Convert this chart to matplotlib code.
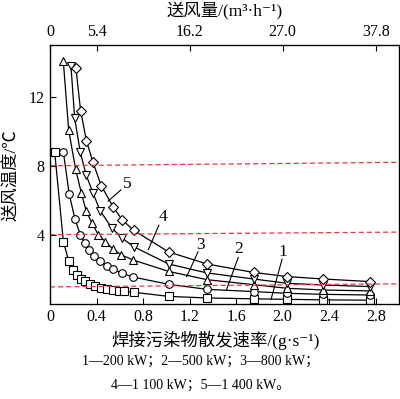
import numpy as np
import matplotlib
matplotlib.use('Agg')
import matplotlib.pyplot as plt

plt.rcParams['font.family'] = ['Liberation Serif', 'Noto Sans CJK SC', 'DejaVu Serif']
plt.rcParams['axes.unicode_minus'] = False

# emission rate (g/s) vs supply air temperature (C), one curve per power level
x1 = [0.04, 0.115, 0.16, 0.20, 0.23, 0.27, 0.30, 0.34, 0.39, 0.44, 0.49, 0.54, 0.59, 0.64, 0.72,
      1.02, 1.35, 1.75, 2.04, 2.35, 2.75]
y1 = [8.8, 3.6, 2.5, 1.97, 1.68, 1.45, 1.29, 1.14, 1.01, 0.91, 0.85, 0.80, 0.76, 0.71, 0.66,
      0.42, 0.33, 0.28, 0.25, 0.22, 0.20]

x2 = [0.115, 0.165, 0.215, 0.26, 0.30, 0.335, 0.38, 0.43, 0.49, 0.545, 0.615, 0.71,
      1.02, 1.35, 1.75, 2.04, 2.35, 2.75]
y2 = [8.8, 6.35, 4.9, 4.0, 3.5, 3.1, 2.75, 2.45, 2.2, 2.0, 1.78, 1.55,
      1.12, 0.83, 0.70, 0.60, 0.54, 0.50]

x3 = [0.114, 0.16, 0.22, 0.27, 0.31, 0.36, 0.415, 0.475, 0.545, 0.61, 0.715,
      1.02, 1.35, 1.75, 2.04, 2.35, 2.75]
y3 = [14.1, 10.1, 7.8, 6.4, 5.4, 4.68, 4.0, 3.6, 3.15, 2.84, 2.53,
      1.87, 1.39, 1.10, 0.89, 0.79, 0.74]

x4 = [0.18, 0.212, 0.26, 0.31, 0.37, 0.43, 0.53, 0.62, 0.72,
      1.02, 1.35, 1.75, 2.04, 2.35, 2.75]
y4 = [13.8, 10.76, 8.8, 7.48, 6.42, 5.4, 4.4, 3.8, 3.3,
      2.3, 1.78, 1.43, 1.18, 1.08, 0.99]

x5 = [0.223, 0.263, 0.313, 0.37, 0.44, 0.544, 0.62, 0.72,
      1.02, 1.35, 1.75, 2.04, 2.35, 2.75]
y5 = [13.66, 11.2, 9.45, 8.19, 6.85, 5.6, 4.87, 4.25,
      3.0, 2.3, 1.81, 1.57, 1.43, 1.28]

curves = [(x1, y1, 's'), (x2, y2, 'o'), (x3, y3, '^'), (x4, y4, 'v'), (x5, y5, 'D')]

# red dashed reference levels (left end / right end, the scan is a bit tilted)
ref_left = [8.0, 4.0, 0.97]
ref_right = [8.2, 4.15, 1.15]

# curve numbers and their leader lines
num_labels = ['1', '2', '3', '4', '5']
num_xy = [(2.0, 2.98), (1.625, 3.18), (1.29, 3.42), (0.97, 5.0), (0.665, 6.95)]
lead_from = [(1.90, 0.25), (1.515, 0.77), (1.175, 1.57), (0.845, 3.13), (0.50, 5.95)]
lead_to = [(1.995, 2.58), (1.618, 2.68), (1.272, 3.0), (0.936, 4.55), (0.61, 6.6)]

xticks = [0, 0.4, 0.8, 1.2, 1.6, 2.0, 2.4, 2.8]
air_ticks = [0, 5.4, 16.2, 27.0, 37.8]
air_per_rate = 13.5

fig = plt.figure(figsize=(4.0, 3.99), dpi=100)
ax = fig.add_axes([0.125, 0.239, 0.8725, 0.648])

for x, y, m in curves:
    ax.plot(x, y, '-', color='black', lw=0.9, marker=m, ms=5.5 if m != 'D' else 5,
            mfc='white', mec='black', mew=0.8)

for yl, yr in zip(ref_left, ref_right):
    ax.plot([0, 3.0], [yl, yr], '--', color='#e8383d', lw=0.9, dashes=(4, 2.5))

for lab, (tx, ty), (ax0, ay0), (ax1, ay1) in zip(num_labels, num_xy, lead_from, lead_to):
    ax.plot([ax0, ax1], [ay0, ay1], '-', color='black', lw=0.8)
    ax.text(tx, ty, lab, fontsize=12.5, ha='center', va='center')

ax.set_xlim(0, 3.0)
ax.set_ylim(0, 15)
ax.set_xticks(xticks)
ax.set_xticklabels(['0', '0.4', '0.8', '1.2', '1.6', '2.0', '2.4', '2.8'])
ax.set_yticks([4, 8, 12])
ax.tick_params(direction='in', length=4, width=0.8, labelsize=11.5, pad=4)
for s in ax.spines.values():
    s.set_linewidth(0.9)

top = ax.twiny()
top.set_xlim(ax.get_xlim())
top.set_xticks([a / air_per_rate for a in air_ticks])
top.set_xticklabels(['0', '5.4', '16.2', '27.0', '37.8'])
top.tick_params(direction='in', length=4, width=0.8, labelsize=11.5, pad=4)

fig.text(0.5625, 0.972, '送风量/(m³·h⁻¹)', ha='center', va='center', fontsize=12.5)
fig.text(0.54, 0.148, '焊接污染物散发速率/(g·s⁻¹)', ha='center', va='center', fontsize=12.5)
fig.text(0.03, 0.56, '送风温度/℃', ha='center', va='center', rotation=90, fontsize=12.5)
fig.text(0.502, 0.093, '1—200 kW；2—500 kW；3—800 kW；', ha='center', va='center', fontsize=10)
fig.text(0.502, 0.035, '4—1 100 kW；5—1 400 kW。', ha='center', va='center', fontsize=10)

fig.savefig('out.png', dpi=100)
